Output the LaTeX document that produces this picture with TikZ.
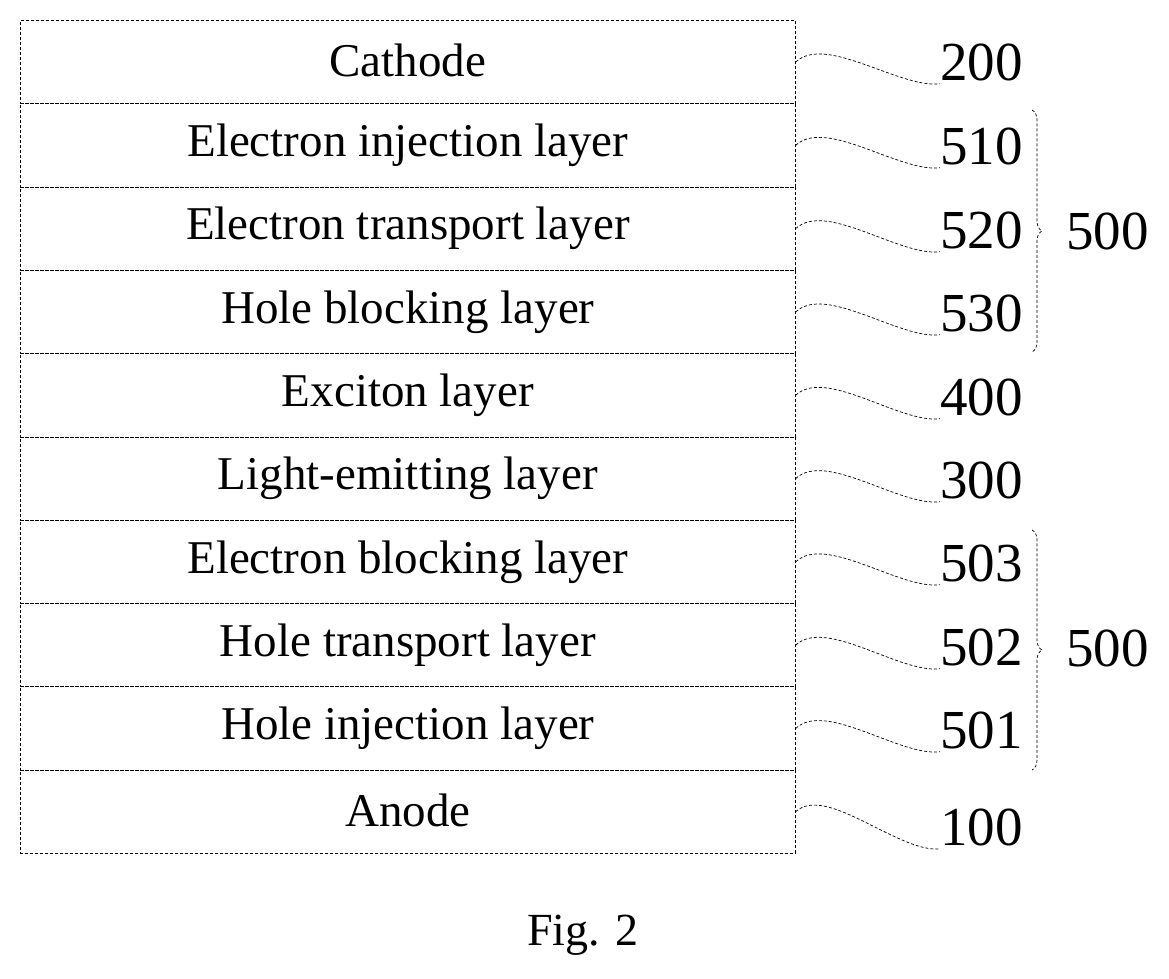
\documentclass[tikz,border=0pt]{standalone}
\usepackage{fontspec}
\setmainfont{Liberation Serif}
\usetikzlibrary{decorations.pathreplacing}
\begin{document}
\begin{tikzpicture}[x=1pt,y=-1pt,
  lay/.style={draw,densely dashed,line width=0.7pt,minimum width=775pt,minimum height=83.3pt,inner sep=0pt,anchor=north west,font=\fontsize{47}{47}\selectfont},
  num/.style={anchor=west,inner sep=0pt,font=\fontsize{55}{55}\selectfont},
  sq/.style={densely dashed,line width=0.7pt},
  br/.style={densely dashed,line width=0.7pt,decorate,decoration={brace,amplitude=10pt}}]
\useasboundingbox (0,0) rectangle (1169,979);
\foreach \n/\t [count=\i from 0] in {c/Cathode,a/Electron injection layer,b/Electron transport layer,d/Hole blocking layer,e/Exciton layer,f/Light-emitting layer,g/Electron blocking layer,h/Hole transport layer,k/Hole injection layer,m/Anode}
  \node[lay] (L\n) at (20,{20+83.3*\i}) {\raisebox{4pt}{\t}};
\foreach \n/\v/\y in {c/200/62,a/510/146,b/520/230,d/530/313,e/400/397,f/300/480,g/503/563,h/502/647,k/501/730,m/100/827}{
  \node[num] (N\v) at (940,\y) {\v};
  \draw[sq] (L\n.east) .. controls +(30,-28) and +(-40,5) .. ([yshift=-3pt]N\v.south west);
}
\coordinate (b1) at (1032,110);
\coordinate (b2) at (1032,352);
\coordinate (b3) at (1032,530);
\coordinate (b4) at (1032,770);
\draw[br] (b1) -- (b2);
\draw[br] (b3) -- (b4);
\node[num] (U) at (1066,231) {500};
\node[num] (D) at (1066,648) {500};
\node[font=\fontsize{46}{46}\selectfont] (fig) at (583,935) {Fig. 2};
\end{tikzpicture}
\end{document}
